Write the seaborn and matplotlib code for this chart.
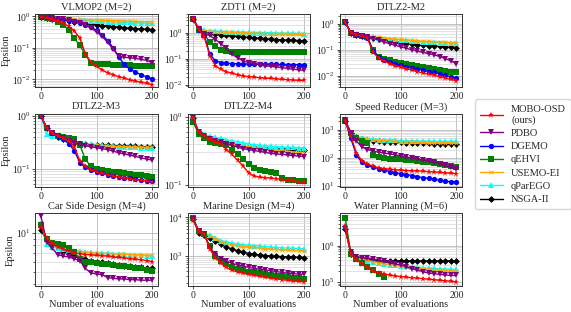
import numpy as np
import pandas as pd
import matplotlib
matplotlib.use('Agg')
import matplotlib.pyplot as plt
import matplotlib.ticker as mticker
import seaborn as sns

# evaluations where the curves are recorded
evals = list(range(0, 201, 10))

methods = ['MOBO-OSD\n(ours)', 'PDBO', 'DGEMO', 'qEHVI', 'USEMO-EI', 'qParEGO', 'NSGA-II']
keys = ['osd', 'pdbo', 'dgemo', 'qehvi', 'usemo', 'qparego', 'nsga']

nan = np.nan

vlmop2 = {
    'osd': [0.95, 0.9, 0.8, 0.7, 0.6, 0.48, 0.35, 0.2, 0.065, 0.035, 0.026, 0.02, 0.016, 0.014, 0.012, 0.011, 0.0095, 0.0088, 0.008, 0.0075, 0.0068],
    'pdbo': [0.95, 0.92, 0.88, 0.84, 0.8, 0.75, 0.68, 0.6, 0.52, 0.42, 0.32, 0.23, 0.15, 0.09, 0.056, 0.05, 0.048, 0.046, 0.043, 0.04, 0.034],
    'dgemo': [0.95, 0.92, 0.88, 0.84, 0.8, 0.75, 0.7, 0.62, 0.52, 0.45, 0.36, 0.26, 0.17, 0.1, 0.05, 0.03, 0.021, 0.017, 0.014, 0.012, 0.0105],
    'qehvi': [0.95, 0.9, 0.8, 0.65, 0.52, 0.38, 0.2, 0.12, 0.06, 0.033, 0.031, 0.03, 0.03, 0.029, 0.029, 0.028, 0.028, 0.027, 0.027, 0.026, 0.026],
    'usemo': [0.95, 0.93, 0.9, 0.88, 0.86, 0.84, 0.82, 0.8, 0.78, 0.77, 0.76, 0.75, 0.74, 0.73, 0.72, 0.71, 0.7, 0.69, 0.68, 0.67, 0.67],
    'qparego': [0.95, 0.92, 0.88, 0.85, 0.82, 0.8, 0.78, 0.76, 0.74, 0.72, 0.7, 0.69, 0.68, 0.67, 0.66, 0.65, 0.64, 0.63, 0.62, 0.61, 0.6],
    'nsga': [0.95, 0.9, 0.85, 0.8, 0.76, 0.72, 0.68, 0.64, 0.6, 0.57, 0.54, 0.51, 0.49, 0.47, 0.45, 0.43, 0.42, 0.41, 0.4, 0.39, 0.38],
}

zdt1 = {
    'osd': [3.5, 1.3, 0.7, 0.13, 0.055, 0.04, 0.032, 0.028, 0.025, 0.022, 0.021, 0.02, 0.019, 0.018, 0.018, 0.017, 0.0165, 0.016, 0.0155, 0.015, 0.015],
    'pdbo': [3.5, 1.4, 0.9, 0.8, 0.55, 0.38, 0.25, 0.15, 0.11, 0.085, 0.072, 0.065, 0.06, 0.055, 0.052, 0.049, 0.046, 0.043, 0.04, 0.038, 0.036],
    'dgemo': [3.5, 1.3, 0.8, 0.15, 0.085, 0.072, 0.068, 0.066, 0.065, 0.064, 0.063, 0.063, 0.062, 0.062, 0.061, 0.061, 0.061, 0.06, 0.06, 0.06, 0.06],
    'qehvi': [3.5, 1.3, 0.85, 0.45, 0.3, 0.22, 0.2, 0.19, 0.19, 0.19, 0.185, 0.185, 0.185, 0.18, 0.18, 0.18, 0.18, 0.18, 0.18, 0.18, 0.18],
    'usemo': [3.5, 1.5, 1.2, 1.15, 1.1, 1.08, 1.05, 1.03, 1.01, 1.0, 0.98, 0.96, 0.95, 0.93, 0.92, 0.91, 0.9, 0.89, 0.88, 0.87, 0.86],
    'qparego': [3.5, 1.5, 1.25, 1.2, 1.15, 1.12, 1.1, 1.08, 1.06, 1.05, 1.04, 1.02, 1.01, 1.0, 0.99, 0.98, 0.97, 0.96, 0.95, 0.94, 0.93],
    'nsga': [3.5, 1.4, 1.0, 0.95, 0.9, 0.85, 0.8, 0.76, 0.72, 0.69, 0.66, 0.63, 0.61, 0.59, 0.57, 0.55, 0.54, 0.52, 0.51, 0.5, 0.48],
}

dtlz2_m2 = {
    'osd': [1.1, 0.45, 0.38, 0.33, 0.28, 0.08, 0.05, 0.038, 0.03, 0.025, 0.022, 0.019, 0.017, 0.015, 0.013, 0.012, 0.011, 0.0095, 0.0085, 0.0075, 0.0068],
    'pdbo': [1.1, 0.45, 0.38, 0.33, 0.3, 0.27, 0.24, 0.2, 0.17, 0.15, 0.13, 0.115, 0.1, 0.09, 0.08, 0.072, 0.065, 0.056, 0.047, 0.038, 0.03],
    'dgemo': [1.1, 0.45, 0.38, 0.33, 0.29, 0.09, 0.055, 0.042, 0.034, 0.029, 0.026, 0.023, 0.021, 0.019, 0.017, 0.015, 0.014, 0.012, 0.011, 0.0095, 0.0085],
    'qehvi': [1.1, 0.45, 0.38, 0.33, 0.3, 0.1, 0.055, 0.045, 0.04, 0.035, 0.032, 0.029, 0.026, 0.024, 0.022, 0.02, 0.018, 0.017, 0.016, 0.015, 0.014],
    'usemo': [1.1, 0.45, 0.38, 0.35, 0.33, 0.31, 0.3, 0.28, 0.27, 0.26, 0.25, 0.24, 0.23, 0.22, 0.215, 0.21, 0.205, 0.2, 0.195, 0.19, 0.19],
    'qparego': [1.1, 0.45, 0.38, 0.35, 0.33, 0.31, 0.29, 0.27, 0.26, 0.25, 0.24, 0.23, 0.22, 0.21, 0.205, 0.2, 0.195, 0.19, 0.185, 0.18, 0.18],
    'nsga': [1.1, 0.45, 0.38, 0.33, 0.3, 0.28, 0.26, 0.24, 0.22, 0.205, 0.19, 0.18, 0.17, 0.16, 0.15, 0.145, 0.14, 0.135, 0.13, 0.125, 0.12],
}

dtlz2_m3 = {
    'osd': [1.0, 0.6, 0.47, 0.42, 0.38, 0.34, 0.26, 0.14, 0.11, 0.095, 0.088, 0.082, 0.077, 0.072, 0.069, 0.066, 0.064, 0.062, 0.06, 0.058, 0.056],
    'pdbo': [1.0, 0.6, 0.47, 0.42, 0.38, 0.34, 0.31, 0.29, 0.27, 0.26, 0.25, 0.24, 0.23, 0.215, 0.2, 0.19, 0.18, 0.17, 0.16, 0.152, 0.145],
    'dgemo': [1.0, 0.6, 0.47, 0.42, 0.36, 0.3, 0.22, 0.13, 0.105, 0.095, 0.088, 0.082, 0.077, 0.073, 0.07, 0.067, 0.065, 0.063, 0.061, 0.059, 0.058],
    'qehvi': [1.0, 0.6, 0.47, 0.42, 0.4, 0.38, 0.36, 0.28, 0.15, 0.11, 0.1, 0.095, 0.09, 0.088, 0.085, 0.082, 0.08, 0.077, 0.075, 0.072, 0.07],
    'usemo': [1.0, 0.6, 0.47, 0.42, 0.38, 0.34, 0.32, 0.3, 0.29, 0.28, 0.275, 0.27, 0.268, 0.266, 0.264, 0.262, 0.26, 0.258, 0.256, 0.255, 0.255],
    'qparego': [1.0, 0.45, 0.42, 0.41, 0.38, 0.35, 0.33, 0.31, 0.3, 0.29, 0.28, 0.275, 0.27, 0.265, 0.26, 0.258, 0.255, 0.252, 0.25, 0.248, 0.245],
    'nsga': [1.0, 0.6, 0.47, 0.4, 0.36, 0.33, 0.31, 0.3, 0.29, 0.285, 0.28, 0.278, 0.275, 0.272, 0.27, 0.268, 0.266, 0.264, 0.262, 0.26, 0.26],
}

# DGEMO has no runs for M >= 4
dtlz2_m4 = {
    'osd': [0.95, 0.6, 0.52, 0.47, 0.43, 0.4, 0.33, 0.28, 0.23, 0.19, 0.15, 0.135, 0.13, 0.128, 0.126, 0.124, 0.12, 0.117, 0.115, 0.112, 0.11],
    'pdbo': [0.95, 0.6, 0.52, 0.47, 0.44, 0.42, 0.4, 0.38, 0.36, 0.34, 0.33, 0.32, 0.31, 0.3, 0.29, 0.285, 0.28, 0.275, 0.27, 0.265, 0.26],
    'qehvi': [0.85, 0.55, 0.48, 0.42, 0.41, 0.4, 0.38, 0.33, 0.28, 0.24, 0.2, 0.18, 0.165, 0.16, 0.155, 0.15, 0.125, 0.12, 0.118, 0.116, 0.115],
    'usemo': [0.95, 0.6, 0.52, 0.48, 0.46, 0.44, 0.42, 0.4, 0.38, 0.37, 0.36, 0.35, 0.34, 0.33, 0.325, 0.32, 0.315, 0.31, 0.305, 0.3, 0.3],
    'qparego': [0.95, 0.6, 0.55, 0.52, 0.5, 0.48, 0.46, 0.445, 0.43, 0.415, 0.4, 0.39, 0.38, 0.375, 0.37, 0.365, 0.36, 0.358, 0.355, 0.352, 0.35],
    'nsga': [0.95, 0.6, 0.52, 0.47, 0.45, 0.43, 0.42, 0.4, 0.39, 0.37, 0.36, 0.355, 0.35, 0.345, 0.34, 0.34, 0.335, 0.335, 0.33, 0.33, 0.33],
}

speed_reducer = {
    'osd': [2000, 600, 150, 80, 60, 52, 45, 42, 40, 38, 37, 36, 35, 35, 34, 33, 32, 31, 30, 29, 28],
    'pdbo': [2200, 800, 400, 250, 200, 180, 160, 150, 140, 130, 120, 110, 100, 92, 85, 78, 70, 62, 55, 47, 40],
    'dgemo': [2000, 500, 130, 70, 55, 48, 42, 38, 33, 30, 28, 26, 24, 22, 20, 19, 18, 16, 15, 14.5, 14],
    'qehvi': [2000, 800, 500, 420, 350, 130, 110, 100, 95, 92, 90, 88, 85, 80, 75, 70, 65, 60, 57, 53, 50],
    'usemo': [2000, 800, 560, 500, 460, 440, 420, 410, 400, 390, 380, 375, 370, 365, 360, 355, 350, 348, 345, 342, 340],
    'qparego': [2000, 800, 580, 520, 490, 470, 455, 445, 435, 425, 420, 415, 410, 405, 400, 398, 396, 394, 392, 390, 390],
    'nsga': [2000, 800, 550, 480, 430, 410, 395, 385, 375, 365, 360, 352, 345, 340, 335, 330, 325, 320, 315, 312, 310],
}

car_side = {
    'osd': [11.2, 9.2, 8.3, 7.8, 7.5, 7.2, 7.0, 6.9, 6.8, 6.75, 6.7, 6.65, 6.6, 6.5, 6.45, 6.4, 6.3, 6.25, 6.2, 6.1, 6.0],
    'pdbo': [13.5, 8.5, 7.6, 6.8, 6.6, 6.5, 6.3, 6.1, 5.3, 4.9, 4.8, 4.75, 4.5, 4.45, 4.4, 4.4, 4.35, 4.35, 4.3, 4.3, 4.3],
    'qehvi': [11.5, 9.0, 8.3, 8.2, 8.0, 7.6, 7.1, 6.3, 6.0, 5.9, 5.8, 5.75, 5.7, 5.6, 5.5, 5.5, 5.4, 5.35, 5.3, 5.2, 5.1],
    'usemo': [12, 9, 8.5, 8.2, 7.9, 7.5, 7.3, 7.2, 7.1, 7.0, 6.95, 6.92, 6.9, 6.88, 6.85, 6.82, 6.8, 6.77, 6.75, 6.72, 6.7],
    'qparego': [12, 8.2, 7.8, 7.6, 7.5, 7.4, 7.3, 7.2, 7.1, 7.05, 7.0, 6.97, 6.94, 6.9, 6.87, 6.84, 6.8, 6.75, 6.7, 6.65, 6.6],
    'nsga': [10.5, 8.8, 8.2, 7.8, 7.3, 6.9, 6.6, 6.4, 6.3, 6.1, 6.0, 5.9, 5.8, 5.7, 5.6, 5.55, 5.5, 5.45, 5.4, 5.35, 5.3],
}

marine = {
    'osd': [8500, 4500, 3800, 1500, 900, 650, 500, 420, 380, 350, 330, 310, 290, 275, 260, 250, 240, 230, 220, 215, 210],
    'pdbo': [9000, 4500, 3700, 1600, 1100, 850, 720, 640, 580, 540, 500, 470, 450, 430, 410, 390, 370, 355, 345, 335, 330],
    'qehvi': [9500, 4500, 3600, 1800, 1000, 750, 600, 520, 460, 420, 390, 370, 350, 335, 320, 305, 290, 280, 270, 260, 250],
    'usemo': [9000, 4500, 3800, 3300, 2800, 2300, 2100, 1950, 1850, 1750, 1700, 1650, 1600, 1550, 1500, 1450, 1420, 1400, 1380, 1360, 1350],
    'qparego': [9500, 4500, 3900, 3400, 3000, 2500, 2300, 2150, 2050, 1950, 1900, 1850, 1800, 1750, 1700, 1650, 1620, 1600, 1580, 1560, 1550],
    'nsga': [9000, 4000, 3500, 3000, 2500, 2000, 1700, 1500, 1350, 1250, 1150, 1100, 1050, 1020, 1000, 975, 950, 935, 920, 910, 900],
}

water = {
    'osd': [3.4e6, 6e5, 4e5, 3.2e5, 2.5e5, 2e5, 1.8e5, 1.65e5, 1.55e5, 1.45e5, 1.4e5, 1.35e5, 1.3e5, 1.27e5, 1.22e5, 1.18e5, 1.15e5, 1.1e5, 1.07e5, 1.04e5, 1.0e5],
    'pdbo': [2.8e6, 6.5e5, 5e5, 4.6e5, 4.5e5, 4.3e5, 4e5, 3.7e5, 3.3e5, 3.1e5, 2.9e5, 2.6e5, 2.3e5, 2.1e5, 1.9e5, 1.75e5, 1.7e5, 1.6e5, 1.55e5, 1.5e5, 1.5e5],
    'qehvi': [5.7e6, 6e5, 4.2e5, 3.3e5, 2.6e5, 2.1e5, 1.6e5, 1.35e5, nan, nan, nan, nan, nan, nan, nan, nan, nan, nan, nan, nan, nan],
    'usemo': [3.5e6, 6e5, 4.6e5, 4.2e5, 3.9e5, 3.6e5, 3.4e5, 3.2e5, 3e5, 2.85e5, 2.7e5, 2.6e5, 2.5e5, 2.4e5, 2.3e5, 2.2e5, 2.15e5, 2.1e5, 2.05e5, 2e5, 2e5],
    'qparego': [3.5e6, 6e5, 4.5e5, 4e5, 3.7e5, 3.5e5, 3.3e5, 3.1e5, 3e5, 2.9e5, 2.8e5, 2.7e5, 2.6e5, 2.5e5, 2.45e5, 2.4e5, 2.35e5, 2.3e5, 2.25e5, 2.2e5, 2.2e5],
    'nsga': [2.8e6, 6e5, 4.8e5, 4.4e5, 4.1e5, 3.9e5, 3.8e5, 3.8e5, 3.8e5, 3.8e5, 3.8e5, 3.8e5, 3.8e5, 3.8e5, 3.8e5, 3.8e5, 3.8e5, 3.8e5, 3.8e5, 3.8e5, 3.8e5],
}

titles = ['VLMOP2 (M=2)', 'ZDT1 (M=2)', 'DTLZ2-M2',
          'DTLZ2-M3', 'DTLZ2-M4', 'Speed Reducer (M=3)',
          'Car Side Design (M=4)', 'Marine Design (M=4)', 'Water Planning (M=6)']
panels = [vlmop2, zdt1, dtlz2_m2, dtlz2_m3, dtlz2_m4, speed_reducer, car_side, marine, water]
ylims = [(0.0056, 1.18), (0.0082, 5.2), (0.0038, 2.3),
         (0.045, 1.11), (0.094, 1.11), (9.5, 3800),
         (3.85, 14.2), (160, 12900), (7.5e4, 7.8e6)]

colors = {'osd': 'red', 'pdbo': 'purple', 'dgemo': 'blue', 'qehvi': 'green',
          'usemo': 'orange', 'qparego': 'cyan', 'nsga': 'black'}
markers = {'osd': '*', 'pdbo': 'v', 'dgemo': 'o', 'qehvi': 's',
           'usemo': 'x', 'qparego': '^', 'nsga': 'D'}
msizes = {'osd': 4.5, 'pdbo': 4, 'dgemo': 3.8, 'qehvi': 3.8,
          'usemo': 3.5, 'qparego': 3.8, 'nsga': 3.5}

sns.set_style('ticks')
plt.rcParams['font.family'] = ['Liberation Serif', 'DejaVu Serif']
plt.rcParams['mathtext.fontset'] = 'stix'

fig, axes = plt.subplots(3, 3, figsize=(5.71, 3.12), dpi=100)
fig.subplots_adjust(left=0.062, right=0.809, top=0.955, bottom=0.082, wspace=0.245, hspace=0.36)

for i, ax in enumerate(axes.flat):
    data = panels[i]
    # draw in reverse so MOBO-OSD sits on top
    for k in keys[::-1]:
        if k not in data:
            continue
        df = pd.DataFrame({'evals': evals, 'eps': data[k]}).dropna()
        sns.lineplot(data=df, x='evals', y='eps', ax=ax, color=colors[k],
                     marker=markers[k], markersize=msizes[k], markeredgewidth=0.6 if k == 'usemo' else 0,
                     markeredgecolor=colors[k], linewidth=1.0, label=methods[keys.index(k)], legend=False)
    ax.set_yscale('log')
    ax.set_ylim(*ylims[i])
    ax.set_xlim(-10, 210)
    ax.set_xticks([0, 100, 200])
    ax.yaxis.set_minor_formatter(mticker.NullFormatter())
    ax.grid(True, which='major', color='#b8b8b8', linewidth=0.6)
    ax.grid(True, which='minor', axis='y', color='#d6d6d6', linewidth=0.5)
    ax.set_axisbelow(True)
    ax.tick_params(axis='both', which='major', labelsize=7, length=2.5, width=0.6, pad=1)
    ax.tick_params(axis='y', which='minor', length=1.5, width=0.5)
    for sp in ax.spines.values():
        sp.set_linewidth(0.7)
        sp.set_color('#333333')
    ax.set_title(titles[i], fontsize=7.5, pad=3)
    ax.set_xlabel('Number of evaluations' if i >= 6 else '', fontsize=7.5, labelpad=0)
    ax.set_ylabel('Epsilon' if i % 3 == 0 else '', fontsize=7.5, labelpad=1)

# legend in the original method order, taken from the panel that has all methods
handles, labels = axes[0, 0].get_legend_handles_labels()
order = [labels.index(m) for m in methods]
fig.legend([handles[j] for j in order], methods, loc='center left', bbox_to_anchor=(0.822, 0.505),
           fontsize=7.5, handlelength=2.2, labelspacing=0.38, borderpad=0.5, frameon=True)

fig.savefig('out.png', dpi=100)
